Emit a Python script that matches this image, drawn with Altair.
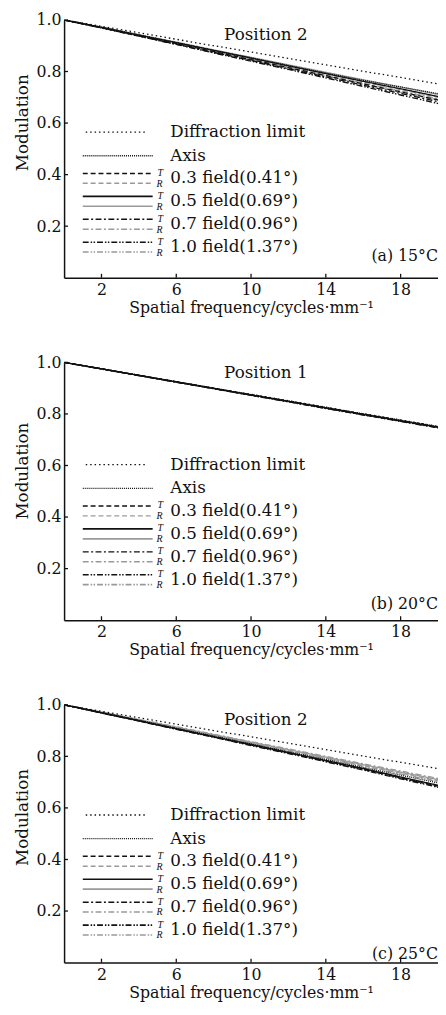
import altair as alt
import pandas as pd

# ---------------- data ----------------
freq = [0, 2, 4, 6, 8, 10, 12, 14, 16, 18, 20]

diffraction = [1.0, 0.975, 0.950, 0.925, 0.900, 0.876, 0.851, 0.826, 0.801, 0.777, 0.752]

# panel (a) 15 C, Position 2
a_axis = [1.0, 0.972, 0.942, 0.912, 0.882, 0.853, 0.823, 0.794, 0.766, 0.740, 0.714]
a_t03 = [1.0, 0.970, 0.939, 0.908, 0.877, 0.846, 0.815, 0.784, 0.752, 0.721, 0.690]
a_r03 = [1.0, 0.971, 0.941, 0.911, 0.880, 0.850, 0.820, 0.790, 0.760, 0.730, 0.700]
a_t05 = [1.0, 0.971, 0.941, 0.912, 0.882, 0.852, 0.822, 0.792, 0.762, 0.733, 0.703]
a_r05 = [1.0, 0.972, 0.943, 0.914, 0.884, 0.855, 0.826, 0.797, 0.768, 0.740, 0.711]
a_t07 = [1.0, 0.969, 0.938, 0.906, 0.874, 0.843, 0.811, 0.779, 0.747, 0.715, 0.683]
a_r07 = [1.0, 0.970, 0.940, 0.909, 0.878, 0.847, 0.817, 0.786, 0.755, 0.725, 0.694]
a_t10 = [1.0, 0.969, 0.937, 0.905, 0.872, 0.840, 0.808, 0.775, 0.742, 0.709, 0.676]
a_r10 = [1.0, 0.970, 0.939, 0.908, 0.876, 0.845, 0.814, 0.782, 0.751, 0.719, 0.688]

# panel (b) 20 C, Position 1
b_axis = [1.0, 0.975, 0.950, 0.925, 0.900, 0.875, 0.850, 0.825, 0.800, 0.776, 0.751]
b_t03 = [1.0, 0.975, 0.950, 0.924, 0.899, 0.874, 0.849, 0.824, 0.799, 0.774, 0.749]
b_r03 = [1.0, 0.975, 0.950, 0.925, 0.899, 0.874, 0.849, 0.824, 0.799, 0.775, 0.750]
b_t05 = [1.0, 0.975, 0.949, 0.924, 0.899, 0.874, 0.849, 0.823, 0.798, 0.773, 0.748]
b_r05 = [1.0, 0.975, 0.950, 0.924, 0.899, 0.874, 0.849, 0.824, 0.799, 0.774, 0.749]
b_t07 = [1.0, 0.975, 0.949, 0.924, 0.898, 0.873, 0.848, 0.822, 0.797, 0.772, 0.747]
b_r07 = [1.0, 0.975, 0.949, 0.924, 0.899, 0.873, 0.848, 0.823, 0.798, 0.773, 0.748]
b_t10 = [1.0, 0.974, 0.949, 0.923, 0.898, 0.872, 0.847, 0.821, 0.796, 0.771, 0.746]
b_r10 = [1.0, 0.975, 0.949, 0.924, 0.898, 0.873, 0.847, 0.822, 0.797, 0.772, 0.747]

# panel (c) 25 C, Position 2
c_axis = [1.0, 0.970, 0.940, 0.909, 0.879, 0.848, 0.818, 0.788, 0.757, 0.727, 0.697]
c_t03 = [1.0, 0.969, 0.938, 0.907, 0.876, 0.845, 0.814, 0.783, 0.752, 0.718, 0.685]
c_r03 = [1.0, 0.971, 0.941, 0.911, 0.882, 0.852, 0.823, 0.794, 0.764, 0.735, 0.705]
c_t05 = [1.0, 0.969, 0.938, 0.907, 0.876, 0.846, 0.815, 0.784, 0.753, 0.720, 0.688]
c_r05 = [1.0, 0.971, 0.942, 0.913, 0.884, 0.855, 0.826, 0.797, 0.768, 0.739, 0.710]
c_t07 = [1.0, 0.969, 0.938, 0.906, 0.875, 0.844, 0.813, 0.781, 0.750, 0.716, 0.683]
c_r07 = [1.0, 0.972, 0.943, 0.915, 0.886, 0.857, 0.829, 0.800, 0.771, 0.743, 0.714]
c_t10 = [1.0, 0.968, 0.937, 0.905, 0.874, 0.842, 0.811, 0.779, 0.747, 0.713, 0.680]
c_r10 = [1.0, 0.971, 0.941, 0.911, 0.881, 0.851, 0.821, 0.792, 0.762, 0.732, 0.702]

series_names = ["Diffraction limit", "Axis", "T0.3", "R0.3", "T0.5", "R0.5",
                "T0.7", "R0.7", "T1.0", "R1.0"]
field_labels = ["0.3  field(0.41°)", "0.5  field(0.69°)", "0.7  field(0.96°)", "1.0  field(1.37°)"]
panel_labels = ["(a) 15°C", "(b) 20°C", "(c) 25°C"]
position_labels = ["Position 2", "Position 1", "Position 2"]
x_ticks = [2, 6, 10, 14, 18]
y_ticks = [0.2, 0.4, 0.6, 0.8, 1.0]

panels_values = [
    [diffraction, a_axis, a_t03, a_r03, a_t05, a_r05, a_t07, a_r07, a_t10, a_r10],
    [diffraction, b_axis, b_t03, b_r03, b_t05, b_r05, b_t07, b_r07, b_t10, b_r10],
    [diffraction, c_axis, c_t03, c_r03, c_t05, c_r05, c_t07, c_r07, c_t10, c_r10],
]

# ---------------- styles ----------------
BLACK = "#111111"
GREY = "#9a9a9a"
series_colors = [BLACK, BLACK, BLACK, GREY, BLACK, GREY, BLACK, GREY, BLACK, GREY]
series_dash = [[1.5, 3], [1, 1], [5, 3], [5, 3], [1, 0], [1, 0],
               [6, 2.5, 2, 2.5], [6, 2.5, 2, 2.5], [6, 2, 1.5, 1.5, 1.5, 2], [6, 2, 1.5, 1.5, 1.5, 2]]
series_width = [1.3, 1.4, 1.5, 1.5, 1.7, 1.7, 1.5, 1.5, 1.6, 1.6]
draw_order = [3, 5, 7, 9, 1, 2, 4, 6, 8, 0]

FONT = "DejaVu Serif"
W, H = 380, 262

# per-panel placement tweaks (pixels)
legend_dy = [6, -4, 4]
label_y = [240, 246, 253]
pos_y = [15, 11, 16]
title_y = [104, 110, 114]


def make_panel(i):
    vals = panels_values[i]
    rows = []
    for order, s in enumerate(draw_order):
        for xv, yv in zip(freq, vals[s]):
            rows.append({"freq": xv, "mod": yv, "series": series_names[s], "order": order})
    df = pd.DataFrame(rows)

    xscale = alt.Scale(domain=[0, 20], nice=False)
    yscale = alt.Scale(domain=[0, 1.0], nice=False)

    lines = alt.Chart(df).mark_line(clip=True).encode(
        x=alt.X("freq:Q", scale=xscale,
                axis=alt.Axis(values=x_ticks, title="Spatial  frequency/cycles·mm⁻¹",
                              labelPadding=4, titlePadding=2)),
        y=alt.Y("mod:Q", scale=yscale,
                axis=alt.Axis(values=y_ticks, format=".1f", title="Modulation",
                              labelPadding=3, titlePadding=5, titleFontSize=17,
                              titleY=title_y[i])),
        detail="series:N",
        color=alt.Color("series:N", scale=alt.Scale(domain=series_names, range=series_colors), legend=None),
        strokeDash=alt.StrokeDash("series:N", scale=alt.Scale(domain=series_names, range=series_dash), legend=None),
        strokeWidth=alt.StrokeWidth("series:N", scale=alt.Scale(domain=series_names, range=series_width), legend=None),
        order="order:Q",
    )

    # inward ticks
    xt = alt.Chart(pd.DataFrame({"t": x_ticks})).mark_rule(color=BLACK, strokeWidth=1.3).encode(
        x=alt.X("t:Q", scale=xscale), y=alt.value(H), y2=alt.value(H - 4))
    yt = alt.Chart(pd.DataFrame({"t": y_ticks})).mark_rule(color=BLACK, strokeWidth=1.3).encode(
        y=alt.Y("t:Q", scale=yscale), x=alt.value(0), x2=alt.value(4))

    layers = [lines, xt, yt]
    dy = legend_dy[i]
    one = pd.DataFrame({"k": [0]})

    # legend: diffraction limit and axis
    top_rows = [("Diffraction limit", 108, 0, 22, 84), ("Axis", 132, 1, 19, 90)]
    for txt, yy, s, x1, x2 in top_rows:
        layers.append(alt.Chart(one).mark_rule(strokeDash=series_dash[s], color=series_colors[s],
                                               strokeWidth=series_width[s]).encode(
            x=alt.value(x1), x2=alt.value(x2), y=alt.value(yy + dy)))
        layers.append(alt.Chart(one).mark_text(text=txt, font=FONT, fontSize=17, align="left",
                                               baseline="middle", color=BLACK).encode(
            x=alt.value(108), y=alt.value(yy + dy)))

    # field rows
    for j, lab in enumerate(field_labels):
        yy = 155 + 23.3 * j + dy
        sT = 2 + 2 * j
        sR = 3 + 2 * j
        layers.append(alt.Chart(one).mark_rule(strokeDash=series_dash[sT], color=series_colors[sT],
                                               strokeWidth=series_width[sT]).encode(
            x=alt.value(19), x2=alt.value(90), y=alt.value(yy - 5)))
        layers.append(alt.Chart(one).mark_rule(strokeDash=series_dash[sR], color=series_colors[sR],
                                               strokeWidth=series_width[sR]).encode(
            x=alt.value(19), x2=alt.value(90), y=alt.value(yy + 5)))
        layers.append(alt.Chart(one).mark_text(text="T", font="Liberation Serif", fontStyle="italic",
                                               fontSize=10, align="left", baseline="middle", color=BLACK).encode(
            x=alt.value(95), y=alt.value(yy - 5.5)))
        layers.append(alt.Chart(one).mark_text(text="R", font="Liberation Serif", fontStyle="italic",
                                               fontSize=10, align="left", baseline="middle", color=BLACK).encode(
            x=alt.value(94), y=alt.value(yy + 5.5)))
        layers.append(alt.Chart(one).mark_text(text=lab, font=FONT, fontSize=17, align="left",
                                               baseline="middle", color=BLACK).encode(
            x=alt.value(108), y=alt.value(yy)))

    # position + panel labels
    layers.append(alt.Chart(one).mark_text(text=position_labels[i], font=FONT, fontSize=17,
                                           align="center", baseline="middle", color=BLACK).encode(
        x=alt.value(205), y=alt.value(pos_y[i])))
    layers.append(alt.Chart(one).mark_text(text=panel_labels[i], font=FONT, fontSize=16,
                                           align="right", baseline="middle", color=BLACK).encode(
        x=alt.value(380), y=alt.value(label_y[i])))

    return alt.layer(*layers).properties(width=W, height=H)


chart = alt.vconcat(*[make_panel(i) for i in range(3)], spacing=40).properties(
    padding={"left": 5, "top": -4, "right": 0, "bottom": 0},
    background="white",
).configure_view(stroke=None).configure_axis(
    grid=False, ticks=False, domainColor=BLACK, domainWidth=1.5,
    labelFont=FONT, labelFontSize=16, labelColor=BLACK,
    titleFont=FONT, titleFontSize=16, titleColor=BLACK, titleFontWeight="normal",
)

chart.save("out.html", embed_options={"renderer": "svg", "actions": False})
